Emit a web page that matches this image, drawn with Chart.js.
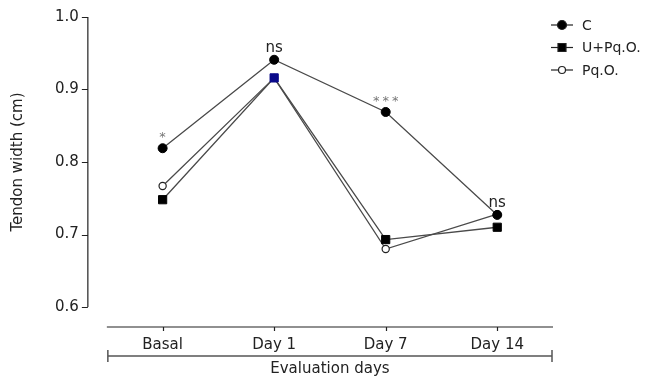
<!DOCTYPE html>
<html>
<head>
<meta charset="utf-8">
<script src="https://cdn.jsdelivr.net/npm/chart.js@4"></script>
<style>
  html, body { margin: 0; padding: 0; background: #fff; }
  #wrap { width: 646px; height: 378px; }
</style>
</head>
<body>
<div id="wrap"><canvas id="myChart" width="646" height="378"></canvas></div>
<script>
const days = ['Basal', 'Day 1', 'Day 7', 'Day 14'];
const cValues = [0.819, 0.941, 0.869, 0.727];
const uPqoValues = [0.748, 0.916, 0.693, 0.710];
const pqoValues = [0.767, 0.916, 0.680, 0.728];
const yTicks = [0.6, 0.7, 0.8, 0.9, 1.0];
const marks = ['*', 'ns', '***', 'ns'];

const FONT = 'DejaVu Sans, Verdana, sans-serif';
const LINE = '#4a4a4a';

// prism style axes, legend and significance marks
const extras = {
  id: 'extras',
  afterDraw(chart) {
    const c = chart.ctx;
    const x = chart.scales.x;
    const y = chart.scales.y;
    const area = chart.chartArea;
    const yAxisX = area.left - 19;
    const xAxisY = area.bottom + 20;

    c.save();
    c.strokeStyle = '#222';
    c.lineWidth = 1.2;
    // y axis
    c.beginPath();
    c.moveTo(yAxisX, y.getPixelForValue(1.0));
    c.lineTo(yAxisX, y.getPixelForValue(0.6));
    yTicks.forEach(function (t) {
      const py = Math.round(y.getPixelForValue(t)) + 0.5;
      c.moveTo(yAxisX - 6, py);
      c.lineTo(yAxisX, py);
    });
    c.stroke();
    // x axis
    c.beginPath();
    c.moveTo(area.left, xAxisY);
    c.lineTo(area.right, xAxisY);
    days.forEach(function (d, i) {
      const px = Math.round(x.getPixelForValue(i)) + 0.5;
      c.moveTo(px, xAxisY);
      c.lineTo(px, xAxisY + 4);
    });
    c.stroke();
    // bracket
    c.strokeStyle = '#555';
    c.lineWidth = 1.5;
    c.beginPath();
    c.moveTo(area.left + 1, area.bottom + 49);
    c.lineTo(area.right - 1, area.bottom + 49);
    c.moveTo(area.left + 1, area.bottom + 43);
    c.lineTo(area.left + 1, area.bottom + 55);
    c.moveTo(area.right - 1, area.bottom + 43);
    c.lineTo(area.right - 1, area.bottom + 55);
    c.stroke();

    // significance marks above C
    c.textAlign = 'center';
    c.textBaseline = 'alphabetic';
    marks.forEach(function (m, i) {
      const px = x.getPixelForValue(i);
      const py = y.getPixelForValue(cValues[i]);
      if (m === 'ns') {
        c.fillStyle = '#222';
        c.font = '15px ' + FONT;
        c.letterSpacing = '0px';
        c.fillText(m, px, py - 8);
      } else {
        c.fillStyle = '#777';
        c.font = '13px ' + FONT;
        c.letterSpacing = '3px';
        c.fillText(m, px + 1.5, py - 7);
      }
    });
    c.letterSpacing = '0px';

    // legend
    const items = [
      { label: 'C', style: 'circle', fill: '#000', r: 4.5 },
      { label: 'U+Pq.O.', style: 'rect', fill: '#000', r: 4 },
      { label: 'Pq.O.', style: 'circle', fill: '#fff', r: 3.5 }
    ];
    items.forEach(function (it, i) {
      const ly = 25 + i * 22.5;
      c.strokeStyle = '#222';
      c.lineWidth = 1.2;
      c.beginPath();
      c.moveTo(551, ly);
      c.lineTo(573, ly);
      c.stroke();
      c.fillStyle = it.fill;
      c.beginPath();
      if (it.style === 'circle') {
        c.arc(562, ly, it.r, 0, Math.PI * 2);
      } else {
        c.rect(558, ly - 4, 8, 8);
      }
      c.fill();
      c.stroke();
      c.fillStyle = '#222';
      c.font = '14px ' + FONT;
      c.textAlign = 'left';
      c.textBaseline = 'middle';
      c.fillText(it.label, 582, ly + 1);
    });
    c.restore();
  }
};

new Chart(document.getElementById('myChart'), {
  type: 'line',
  data: {
    labels: days,
    datasets: [{
      label: 'C',
      data: cValues,
      borderColor: LINE,
      borderWidth: 1.3,
      pointStyle: 'circle',
      pointRadius: 4.5,
      pointBackgroundColor: '#000',
      pointBorderColor: '#000',
      pointBorderWidth: 1
    }, {
      label: 'U+Pq.O.',
      data: uPqoValues,
      borderColor: LINE,
      borderWidth: 1.3,
      pointStyle: 'rect',
      pointRadius: 5.8,
      pointBackgroundColor: ['#000', '#0a0a8a', '#000', '#000'],
      pointBorderColor: ['#000', '#0a0a8a', '#000', '#000'],
      pointBorderWidth: 1
    }, {
      label: 'Pq.O.',
      data: pqoValues,
      borderColor: LINE,
      borderWidth: 1.3,
      pointStyle: 'circle',
      pointRadius: 3.6,
      pointBackgroundColor: '#fff',
      pointBorderColor: '#222',
      pointBorderWidth: 1.2
    }]
  },
  options: {
    responsive: false,
    animation: false,
    devicePixelRatio: 1,
    layout: { padding: { top: 17, right: 93, bottom: 0, left: 9 } },
    plugins: { legend: { display: false }, tooltip: { enabled: false } },
    scales: {
      x: {
        type: 'category',
        offset: true,
        grid: { display: false, drawTicks: false },
        border: { display: false },
        ticks: { color: '#222', font: { family: FONT, size: 15 }, padding: 29 },
        title: { display: true, text: 'Evaluation days', color: '#222', font: { family: FONT, size: 15 }, padding: { top: 4, bottom: 0 } },
        afterFit: function (axis) { axis.height = 71; }
      },
      y: {
        min: 0.6,
        max: 1.0,
        grid: { display: false, drawTicks: false },
        border: { display: false },
        afterBuildTicks: function (axis) {
          axis.ticks = yTicks.map(function (v) { return { value: v }; });
        },
        afterFit: function (axis) { axis.paddingTop = 0; axis.paddingBottom = 0; },
        ticks: {
          color: '#222',
          font: { family: FONT, size: 15 },
          padding: 28,
          callback: function (v) { return v.toFixed(1); }
        },
        title: { display: true, text: 'Tendon width (cm)', color: '#222', font: { family: FONT, size: 15 }, padding: { top: 0, bottom: 0 } }
      }
    }
  },
  plugins: [extras]
});
</script>
</body>
</html>
